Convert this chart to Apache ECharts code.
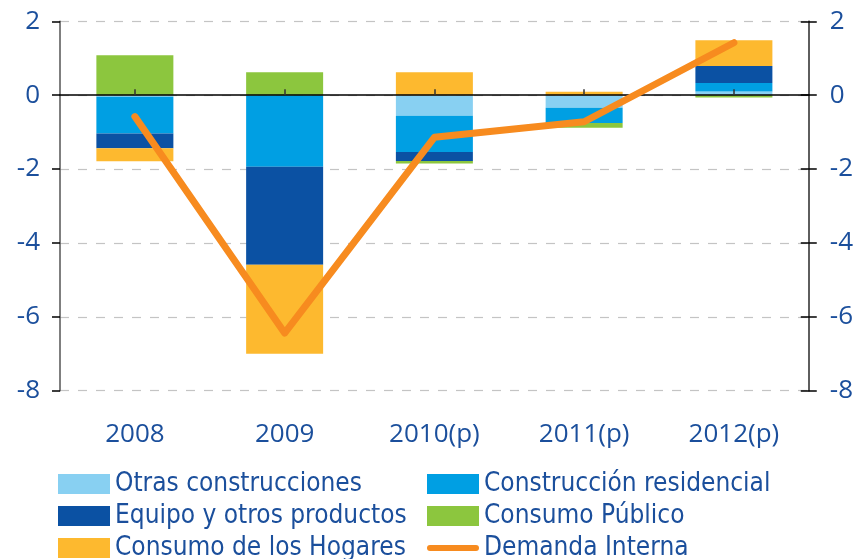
<!DOCTYPE html>
<html>
<head>
<meta charset="utf-8">
<title>Demanda interna</title>
<script src="https://cdn.jsdelivr.net/npm/echarts@6/dist/echarts.min.js"></script>
<style>
  html, body { margin: 0; padding: 0; background: #fff; }
  #chart { width: 856px; height: 559px; }
</style>
</head>
<body>
<div id="chart"></div>
<script>
// datos
var years = ['2008', '2009', '2010(p)', '2011(p)', '2012(p)'];
var otrasConstrucciones = [-0.04, 0, -0.56, -0.34, 0.10];
var construccionResidencial = [-1.00, -1.94, -0.98, -0.41, 0.23];
var equipoProductos = [-0.40, -2.65, -0.24, 0, 0.46];
var consumoPublico = [1.08, 0.62, -0.07, -0.13, -0.06];
var consumoHogares = [-0.35, -2.41, 0.62, 0.09, 0.70];
var demandaInterna = [-0.58, -6.44, -1.14, -0.72, 1.42];
var yTicks = [-8, 2, 2]; // min, max, intervalo

var textColor = '#1b4f9c';
var labelFont = 'Open Sans';
var legendFont = "'DejaVu Sans Condensed', 'Liberation Sans Narrow', sans-serif";
// icono de linea redondeada para la leyenda (los "M" fijan la caja 52x20)
var lineIcon = 'path://M0,0 M52,20 M3,7 L49,7 A3,3 0 0 1 49,13 L3,13 A3,3 0 0 1 3,7 Z';

var chart = echarts.init(document.getElementById('chart'));

function barSerie(name, color, data) {
  return {
    name: name,
    type: 'bar',
    stack: 'total',
    barWidth: 77,
    itemStyle: { color: color },
    data: data
  };
}

function yAxisBase(position, tickInside, showLabel) {
  return {
    type: 'value',
    position: position,
    min: yTicks[0],
    max: yTicks[1],
    interval: yTicks[2],
    axisLine: { show: true, lineStyle: { color: '#555', width: 1.5 } },
    axisTick: { show: true, inside: tickInside, length: 8, lineStyle: { color: '#000', width: 1.5 } },
    axisLabel: {
      show: showLabel,
      color: textColor,
      fontFamily: labelFont,
      fontSize: 26,
      margin: position === 'left' ? 20 : 21,
      align: position === 'left' ? 'right' : 'left'
    },
    splitLine: { show: false }
  };
}

var leftAxis = yAxisBase('left', false, true);
leftAxis.splitLine = {
  show: true,
  lineStyle: { color: '#c4c4c4', type: [9, 9], width: 1.2 }
};

function legendBase(left, names) {
  return {
    orient: 'vertical',
    left: left,
    top: 471,
    height: 120,
    padding: 0,
    itemWidth: 52,
    itemHeight: 20,
    itemGap: 6,
    icon: 'rect',
    selectedMode: false,
    textStyle: { color: textColor, fontFamily: legendFont, fontSize: 26 },
    data: names
  };
}

var option = {
  animation: false,
  grid: { left: 60, right: 47, top: 21.3, bottom: 168.3 },
  xAxis: [
    {
      // etiquetas abajo
      type: 'category',
      data: years,
      position: 'bottom',
      axisLine: { show: false, onZero: false },
      axisTick: { show: false },
      axisLabel: { color: textColor, fontFamily: labelFont, fontSize: 26, margin: 31 }
    },
    {
      // linea del cero con marcas
      type: 'category',
      data: years,
      position: 'bottom',
      z: 4,
      axisLine: { show: true, onZero: true, lineStyle: { color: '#000', width: 1.5 } },
      axisTick: { show: true, inside: true, alignWithLabel: true, length: 6, lineStyle: { color: '#333', width: 1.5 } },
      axisLabel: { show: false }
    }
  ],
  yAxis: [
    leftAxis,
    yAxisBase('right', false, true),
    yAxisBase('right', true, false)
  ],
  legend: [
    legendBase(58, ['Otras construcciones', 'Equipo y otros productos', 'Consumo de los Hogares']),
    legendBase(427, [
      'Construcción residencial',
      'Consumo Público',
      { name: 'Demanda Interna', icon: lineIcon, itemStyle: { color: '#f78b1f', borderWidth: 0 } }
    ])
  ],
  series: [
    barSerie('Otras construcciones', '#88d0f2', otrasConstrucciones),
    barSerie('Construcción residencial', '#009fe3', construccionResidencial),
    barSerie('Equipo y otros productos', '#0b51a3', equipoProductos),
    barSerie('Consumo Público', '#8cc63e', consumoPublico),
    barSerie('Consumo de los Hogares', '#fdb92f', consumoHogares),
    {
      name: 'Demanda Interna',
      type: 'line',
      symbol: 'none',
      z: 10,
      lineStyle: { color: '#f78b1f', width: 7, cap: 'round', join: 'round' },
      itemStyle: { color: '#f78b1f' },
      data: demandaInterna
    }
  ]
};

chart.setOption(option);
</script>
</body>
</html>
